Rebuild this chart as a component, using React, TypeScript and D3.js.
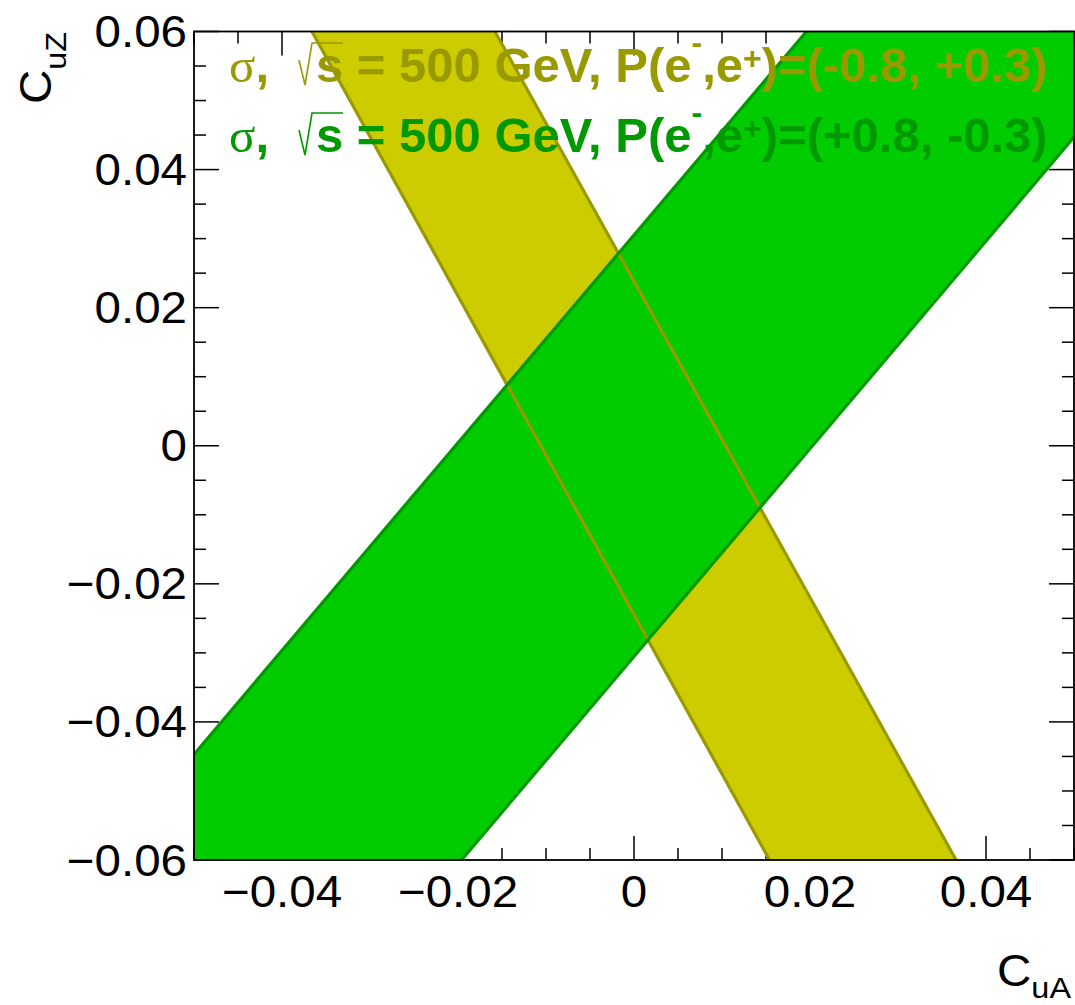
import React, { useRef, useEffect } from 'react';
import * as d3 from 'd3';

const W = 1075;
const H = 1005;

// axis ranges and tick labels
const xDomain = [-0.05, 0.05];
const yDomain = [-0.06, 0.06];
const xLabels = [-0.04, -0.02, 0, 0.02, 0.04];
const yLabels = [-0.06, -0.04, -0.02, 0, 0.02, 0.04, 0.06];

// band edges (C_uA, C_uZ)
const yellowLeftEdge: [number, number][] = [[-0.0366, 0.06], [0.0154, -0.06]];
const yellowRightEdge: [number, number][] = [[-0.0158, 0.06], [0.0366, -0.06]];
const greenUpperEdge: [number, number][] = [[-0.05, -0.0447], [0.0196, 0.06]];
const greenLowerEdge: [number, number][] = [[-0.0196, -0.06], [0.05, 0.0447]];

// legend
const legendPol = ['(-0.8, +0.3)', '(+0.8, -0.3)'];
const legendColors = ['#999900', '#009900'];

const SANS = '"Liberation Sans", Arial, Helvetica, sans-serif';
const SERIF = '"Liberation Serif", "Times New Roman", serif';

export default function App() {
  const svgRef = useRef<SVGSVGElement>(null);

  useEffect(() => {
    const svg = d3.select(svgRef.current);
    const m = { left: 194, right: 1074, top: 31.5, bottom: 860 };

    const x = d3.scaleLinear().domain(xDomain).range([m.left, m.right]);
    const y = d3.scaleLinear().domain(yDomain).range([m.bottom, m.top]);

    const g = svg.append('g');

    // ticks (drawn under the bands)
    const isMajor = (v: number) => Math.abs(Math.round(v / 0.02) * 0.02 - v) < 1e-9;
    const ticks = g.append('g').attr('stroke', '#000').attr('stroke-width', 1.5);
    x.ticks(20).forEach(v => {
      const len = isMajor(v) ? 24 : 12;
      ticks.append('line').attr('x1', x(v)).attr('x2', x(v)).attr('y1', m.bottom).attr('y2', m.bottom - len);
      ticks.append('line').attr('x1', x(v)).attr('x2', x(v)).attr('y1', m.top).attr('y2', m.top + len);
    });
    y.ticks(24).forEach(v => {
      const len = isMajor(v) ? 25 : 12;
      ticks.append('line').attr('y1', y(v)).attr('y2', y(v)).attr('x1', m.left).attr('x2', m.left + len);
      ticks.append('line').attr('y1', y(v)).attr('y2', y(v)).attr('x1', m.right).attr('x2', m.right - len);
    });

    const line = d3.line<[number, number]>().x(d => x(d[0])).y(d => y(d[1]));

    const yellowPoly = [...yellowLeftEdge, ...[...yellowRightEdge].reverse()];
    const greenPoly: [number, number][] = [
      ...greenUpperEdge,
      [xDomain[1], yDomain[1]],
      ...[...greenLowerEdge].reverse(),
      [xDomain[0], yDomain[0]],
    ];

    svg.append('defs').append('clipPath').attr('id', 'frameClip')
      .append('rect').attr('x', m.left).attr('y', m.top)
      .attr('width', m.right - m.left).attr('height', m.bottom - m.top);

    const bands = g.append('g').attr('clip-path', 'url(#frameClip)');
    bands.append('path').attr('d', line(yellowPoly) + 'Z').attr('fill', '#cccc00');
    bands.append('path').attr('d', line(greenPoly) + 'Z').attr('fill', '#00cc00');
    [yellowLeftEdge, yellowRightEdge].forEach(e =>
      bands.append('path').attr('d', line(e)).attr('fill', 'none').attr('stroke', '#999900').attr('stroke-width', 3.2));
    [greenUpperEdge, greenLowerEdge].forEach(e =>
      bands.append('path').attr('d', line(e)).attr('fill', 'none').attr('stroke', '#009900').attr('stroke-width', 3.2));

    // legend text
    legendPol.forEach((pol, i) => {
      const yb = 82 + i * 70;
      const color = legendColors[i];
      const t = g.append('text').attr('x', 229).attr('y', yb).attr('fill', color)
        .style('font-family', SANS).style('font-weight', 'bold').style('font-size', '49px');
      t.append('tspan').style('font-family', SERIF).style('font-weight', 'normal').text('σ');
      t.append('tspan').text(',');
      t.append('tspan').attr('x', 316).text('s = 500 GeV, P(e');
      t.append('tspan').attr('dy', -29).style('font-size', '32px').text('-');
      t.append('tspan').attr('dy', 29).text(',e');
      t.append('tspan').attr('dy', -13).style('font-size', '32px').text('+');
      t.append('tspan').attr('dy', 13).text(')=' + pol);
      // square root sign
      g.append('path')
        .attr('d', `M299,${yb - 22} L305,${yb + 3} L312,${yb - 39} L343,${yb - 39}`)
        .attr('fill', 'none').attr('stroke', color).attr('stroke-width', 1.6);
    });

    // frame
    g.append('rect').attr('x', m.left).attr('y', m.top)
      .attr('width', m.right - m.left).attr('height', m.bottom - m.top)
      .attr('fill', 'none').attr('stroke', '#000').attr('stroke-width', 1.8);

    // tick labels
    const fmt = (v: number) => (Math.abs(v) < 1e-12 ? '0' : d3.format('.2f')(v));
    xLabels.forEach(v => {
      g.append('text')
        .attr('transform', `translate(${x(v)},907) scale(1.08,1)`)
        .attr('text-anchor', 'middle')
        .style('font-family', SANS).style('font-size', '44px')
        .text(fmt(v));
    });
    yLabels.forEach(v => {
      g.append('text')
        .attr('transform', `translate(187,${y(v) + 15.5}) scale(1.08,1)`)
        .attr('text-anchor', 'end')
        .style('font-family', SANS).style('font-size', '44px')
        .text(fmt(v));
    });

    // axis titles
    const xt = g.append('text')
      .attr('transform', 'translate(1071,986) scale(1.08,1)')
      .attr('text-anchor', 'end')
      .style('font-family', SANS).style('font-size', '44px');
    xt.append('tspan').text('C');
    xt.append('tspan').attr('dy', 12).style('font-size', '30px').text('uA');

    const yt = g.append('text')
      .attr('transform', 'translate(51,32) rotate(-90) scale(1.08,1)')
      .attr('text-anchor', 'end')
      .style('font-family', SANS).style('font-size', '44px');
    yt.append('tspan').text('C');
    yt.append('tspan').attr('dy', 15).style('font-size', '30px').text('uZ');

    return () => {
      g.remove();
      svg.select('defs').remove();
    };
  });

  return (
    <svg ref={svgRef} width={W} height={H}
      style={{ position: 'absolute', left: 0, top: 0, background: '#fff' }} />
  );
}
